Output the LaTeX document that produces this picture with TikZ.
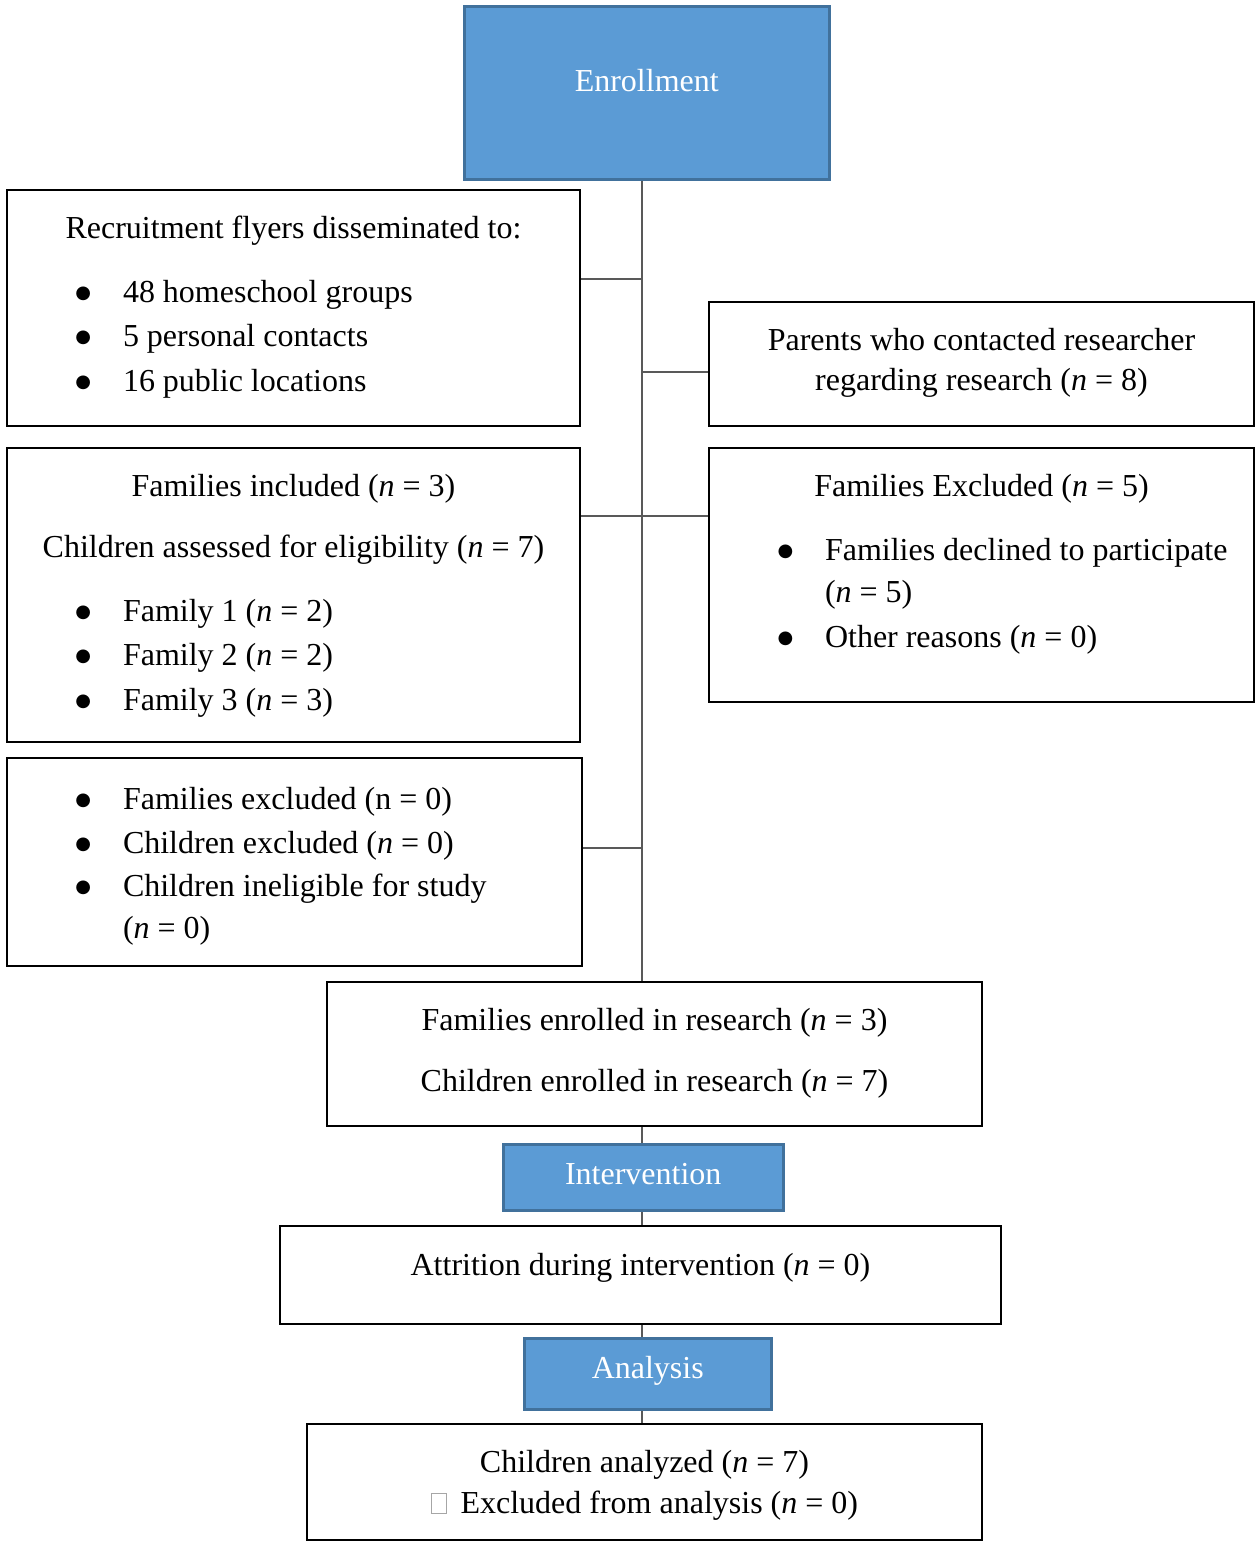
\documentclass[tikz,border=0pt]{standalone}
\usepackage{fontspec}
\setmainfont{Liberation Serif}
\newfontfamily\dotfont{DejaVu Sans}
\usepackage{tikz}
\usetikzlibrary{positioning}

\definecolor{phaseblue}{HTML}{5B9BD5}
\definecolor{phaseedge}{HTML}{41719C}
\definecolor{linegray}{HTML}{595959}

\newcommand{\itm}[1]{\hspace*{68.5pt}\makebox[47.5pt][l]{\raisebox{4pt}{\dotfont\fontsize{18}{18}\selectfont ●}}#1}
\newcommand{\cont}[1]{\hspace*{116pt}#1}
\newcommand{\nn}[1]{(\textit{n} = #1)}

\begin{document}
\begin{tikzpicture}[
    x=1pt, y=-1pt,
    font=\fontsize{32}{44}\selectfont,
    block/.style ={rectangle, draw=black, line width=2pt, fill=white, inner sep=0pt, anchor=north west},
    phase/.style ={rectangle, draw=phaseedge, line width=2.5pt, fill=phaseblue, text=white, inner sep=0pt, anchor=north west},
    line/.style ={draw=linegray, line width=2pt},
]
\useasboundingbox (0,0) rectangle (1259,1543);

% Nodes
\node [phase, minimum width=365pt, text height=85pt, text depth=88pt] (enroll) at (463,5) {Enrollment};

\node [block, minimum width=573pt, text height=48pt, text depth=188pt] (flyers) at (6,189) {%
\begin{tabular}[t]{@{}p{573pt}@{}}
\multicolumn{1}{@{}c@{}}{Recruitment flyers disseminated to:}\\[20pt]
\itm{48 homeschool groups}\\
\itm{5 personal contacts}\\[1pt]
\itm{16 public locations}
\end{tabular}};

\node [block, minimum width=545pt, text height=48pt, text depth=76pt] (parents) at (708,301) {%
\begin{tabular}[t]{@{}c@{}}
Parents who contacted researcher\\[-4pt]
regarding research \nn{8}
\end{tabular}};

\node [block, minimum width=573pt, text height=48pt, text depth=246pt] (incl) at (6,447) {%
\begin{tabular}[t]{@{}p{573pt}@{}}
\multicolumn{1}{@{}c@{}}{Families included \nn{3}}\\[17pt]
\multicolumn{1}{@{}c@{}}{Children assessed for eligibility \nn{7}}\\[20pt]
\itm{Family 1 \nn{2}}\\
\itm{Family 2 \nn{2}}\\[1pt]
\itm{Family 3 \nn{3}}
\end{tabular}};

\node [block, minimum width=545pt, text height=48pt, text depth=206pt] (excl) at (708,447) {%
\begin{tabular}[t]{@{}p{545pt}@{}}
\multicolumn{1}{@{}c@{}}{Families Excluded \nn{5}}\\[20pt]
\itm{Families declined to participate}\\[-2pt]
\cont{\nn{5}}\\[1pt]
\itm{Other reasons \nn{0}}
\end{tabular}};

\node [block, minimum width=575pt, text height=51pt, text depth=157pt] (excl0) at (6,757) {%
\begin{tabular}[t]{@{}p{575pt}@{}}
\itm{Families excluded (n = 0)}\\
\itm{Children excluded \nn{0}}\\[-1pt]
\itm{Children ineligible for study}\\[-2pt]
\cont{\nn{0}}
\end{tabular}};

\node [block, minimum width=655pt, text height=48pt, text depth=96pt] (enrolled) at (326,981) {%
\begin{tabular}[t]{@{}c@{}}
Families enrolled in research \nn{3}\\[17pt]
Children enrolled in research \nn{7}
\end{tabular}};

\node [phase, minimum width=280pt, text height=40pt, text depth=26pt] (interv) at (502,1143) {Intervention};

\node [block, minimum width=721pt, text height=49pt, text depth=49pt] (attrit) at (279,1225) {Attrition during intervention \nn{0}};

\node [phase, minimum width=247pt, text height=40pt, text depth=31pt] (analysis) at (523,1337) {Analysis};

\node [block, minimum width=675pt, text height=48pt, text depth=68pt] (analyzed) at (306,1423) {%
\begin{tabular}[t]{@{}c@{}}
Children analyzed \nn{7}\\[-3pt]
{\color{gray!70}\setlength{\fboxsep}{0pt}\setlength{\fboxrule}{0.8pt}\fbox{\rule{0pt}{19pt}\hspace{14pt}}}\hspace{14pt}Excluded from analysis \nn{0}
\end{tabular}};

% Lines
\coordinate (spine) at ([xshift=-4.5pt]enroll.south);
\path [line] (spine) -- (spine |- enrolled.north);

\coordinate (flyers-j) at ([yshift=29pt]flyers.east);
\path [line] (flyers-j) -- (flyers-j -| spine);
\coordinate (parents-j) at ([yshift=-8pt]parents.west);
\path [line] (parents-j -| spine) -- (parents-j);
\coordinate (incl-j) at ([yshift=79pt]incl.east);
\path [line] (incl-j) -- (incl-j -| excl.west);
\coordinate (excl0-j) at ([yshift=14pt]excl0.east);
\path [line] (excl0-j) -- (excl0-j -| spine);

\path [line] (spine |- enrolled.south) -- (spine |- interv.north);
\path [line] (spine |- interv.south) -- (spine |- attrit.north);
\path [line] (spine |- attrit.south) -- (spine |- analysis.north);
\path [line] (spine |- analysis.south) -- (spine |- analyzed.north);

\end{tikzpicture}
\end{document}
